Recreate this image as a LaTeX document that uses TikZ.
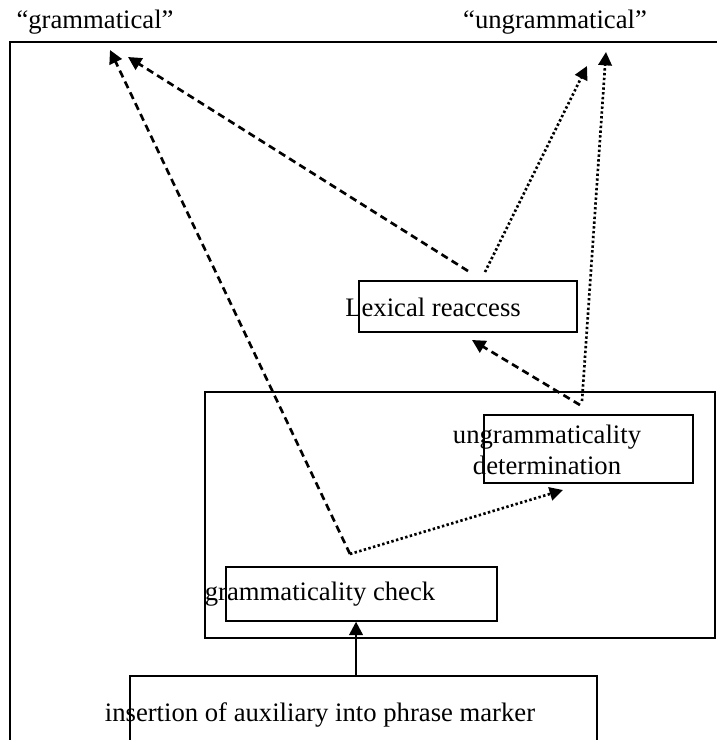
\documentclass[tikz,border=0pt]{standalone}
\usepackage{fontspec}
\setmainfont{Liberation Serif}
\usetikzlibrary{arrows.meta}
\begin{document}
\begin{tikzpicture}[x=0.75pt,y=-0.75pt,
  every node/.style={font=\fontsize{20}{23}\selectfont,inner sep=0pt},
  thinbox/.style={draw,line width=1pt},
  thickbox/.style={draw,line width=2.2pt},
  dashline/.style={line width=2pt,dash pattern=on 5.5pt off 3.5pt,-{Triangle[length=10pt,width=10pt]}},
  dotline/.style={line width=2pt,dash pattern=on 1.8pt off 1.8pt,-{Triangle[length=10pt,width=10pt]}},
  solidline/.style={line width=2pt,-{Triangle[length=10pt,width=10pt]}}]
\useasboundingbox (0,0) rectangle (717,740);
\draw[line width=2.2pt] (10,760) |- (740,42);
\node (gram) at (95,22) {“grammatical”};
\node (ungram) at (555,22) {“ungrammatical”};
\node[thickbox,minimum width=382.5pt,minimum height=184.5pt] (checkarea) at (460,515) {};
\node[thickbox,minimum width=163.5pt,minimum height=38.25pt] (lexbox) at (468,306.5) {};
\node[thinbox,minimum width=203.25pt,minimum height=40.5pt] (checkbox) at (361.5,594) {};
\node[thinbox,minimum width=156.75pt,minimum height=51pt] (detbox) at (588.5,449) {};
\node[thickbox,minimum width=350.25pt,minimum height=81pt] (insbox) at (363.5,730) {};
\node (lextxt) at (433,307) {Lexical reaccess};
\node (checktxt) at (320,594) {grammaticality check};
\node[align=center] (dettxt) at (547,450) {ungrammaticality\\determination};
\node (instxt) at (320,715) {insertion of auxiliary into phrase marker};
\coordinate (gsplit) at (350,554);
\coordinate (lsplitA) at (468,271);
\coordinate (lsplitB) at (485,272);
\coordinate (usplitA) at (582,401);
\coordinate (usplitB) at (580,405);
\coordinate (gtipA) at (110,50);
\coordinate (gtipB) at (128,57);
\coordinate (utipA) at (587,66);
\coordinate (utipB) at (606,52);
\coordinate (ltip) at (472,340);
\coordinate (dtip) at (563,490);
\draw[solidline] ([xshift=-5.6pt]insbox.north) -- ([xshift=-5.6pt]insbox.north |- checkbox.south);
\draw[dashline] (gsplit) -- (gtipA);
\draw[dotline] (gsplit) -- (dtip);
\draw[dashline] (lsplitA) -- (gtipB);
\draw[dotline] (lsplitB) -- (utipA);
\draw[dotline] (usplitA) -- (utipB);
\draw[dashline] (usplitB) -- (ltip);
\end{tikzpicture}
\end{document}
